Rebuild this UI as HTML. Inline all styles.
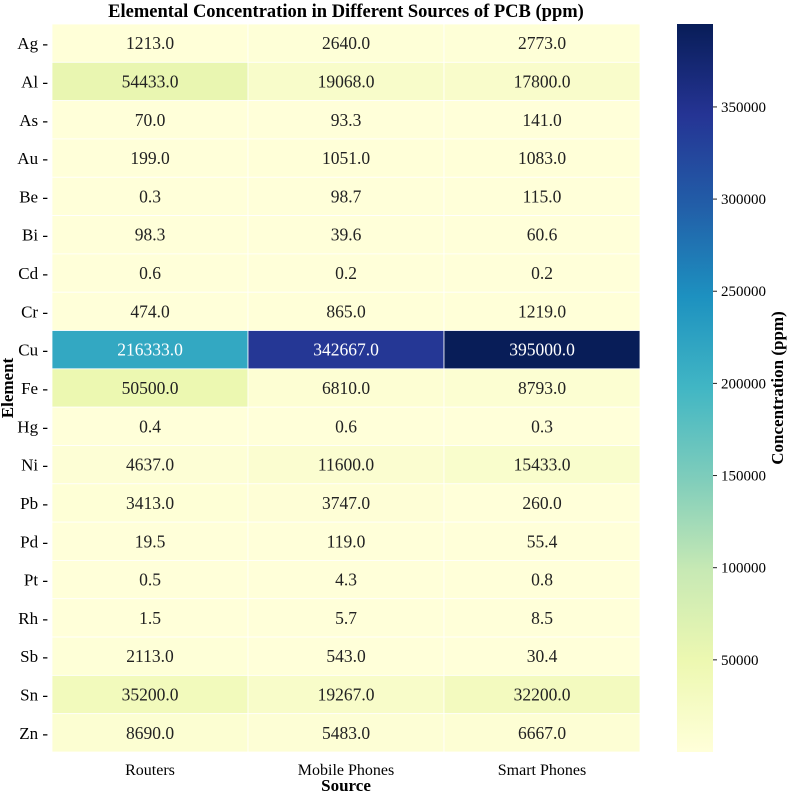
<!DOCTYPE html>
<html><head><meta charset="utf-8">
<style>
body{margin:0;background:#fff;}
svg{display:block;font-family:"Liberation Serif",serif;}
</style></head>
<body>
<svg id="chart" width="790" height="796" xmlns="http://www.w3.org/2000/svg">
<defs>
<linearGradient id="cbgrad" x1="0" y1="1" x2="0" y2="0">
<stop offset="0" stop-color="#ffffd9"/><stop offset="0.125" stop-color="#edf8b1"/><stop offset="0.25" stop-color="#c7e9b4"/><stop offset="0.375" stop-color="#7fcdbb"/><stop offset="0.5" stop-color="#41b6c4"/><stop offset="0.625" stop-color="#1d91c0"/><stop offset="0.75" stop-color="#225ea8"/><stop offset="0.875" stop-color="#253494"/><stop offset="1" stop-color="#081d58"/>
</linearGradient>
</defs>
<text x="346" y="17" text-anchor="middle" font-size="18.5" font-weight="bold">Elemental Concentration in Different Sources of PCB (ppm)</text>
<g id="cells"></g>
<g id="ylabels"></g>
<g id="xlabels"></g>
<text x="346" y="791" text-anchor="middle" font-size="17" font-weight="bold">Source</text>
<text transform="translate(13,388) rotate(-90)" text-anchor="middle" font-size="17" font-weight="bold">Element</text>
<rect x="677" y="24" width="36" height="728" fill="url(#cbgrad)"/>
<g id="cbticks"></g>
<text transform="translate(783,388) rotate(-90)" text-anchor="middle" font-size="17" font-weight="bold">Concentration (ppm)</text>
</svg>
<script>
const elements=["Ag","Al","As","Au","Be","Bi","Cd","Cr","Cu","Fe","Hg","Ni","Pb","Pd","Pt","Rh","Sb","Sn","Zn"];
const sources=["Routers","Mobile Phones","Smart Phones"];
const routers=[1213,54433,70,199,0.3,98.3,0.6,474,216333,50500,0.4,4637,3413,19.5,0.5,1.5,2113,35200,8690];
const mobile=[2640,19068,93.3,1051,98.7,39.6,0.2,865,342667,6810,0.6,11600,3747,119,4.3,5.7,543,19267,5483];
const smart=[2773,17800,141,1083,115,60.6,0.2,1219,395000,8793,0.3,15433,260,55.4,0.8,8.5,30.4,32200,6667];
const cbTicks=[50000,100000,150000,200000,250000,300000,350000];
const vmin=0, vmax=395000;
const NS="http://www.w3.org/2000/svg";
const X0=52,Y0=24,W=588,H=728;
const cw=W/sources.length, rh=H/elements.length;
const stops=["#ffffd9","#edf8b1","#c7e9b4","#7fcdbb","#41b6c4","#1d91c0","#225ea8","#253494","#081d58"].map(h=>[parseInt(h.slice(1,3),16),parseInt(h.slice(3,5),16),parseInt(h.slice(5,7),16)]);
function color(v){let t=(v-vmin)/(vmax-vmin);t=Math.max(0,Math.min(1,t));const p=t*(stops.length-1);const i=Math.min(Math.floor(p),stops.length-2);const f=p-i;const c=stops[i].map((a,k)=>Math.round(a+(stops[i+1][k]-a)*f));return {css:`rgb(${c})`,lum:(0.299*c[0]+0.587*c[1]+0.114*c[2])};}
function xPos(j){return X0+j*cw;}
function yPos(i){return Y0+i*rh;}
function cbY(v){return Y0+H-(v-vmin)/(vmax-vmin)*H;}
const series=[routers,mobile,smart];
const gc=document.getElementById('cells');
series.forEach((s,j)=>{s.forEach((v,i)=>{
  const c=color(v);
  const r=document.createElementNS(NS,'rect');
  r.setAttribute('x',xPos(j));r.setAttribute('y',yPos(i));r.setAttribute('width',cw);r.setAttribute('height',rh);
  r.setAttribute('fill',c.css);r.setAttribute('stroke','#fff');r.setAttribute('stroke-width','0.8');
  
  
  gc.appendChild(r);
  const t=document.createElementNS(NS,'text');
  t.setAttribute('x',xPos(j)+cw/2);t.setAttribute('y',yPos(i)+rh/2+6);t.setAttribute('text-anchor','middle');t.setAttribute('font-size','17.5');
  t.setAttribute('fill',c.lum<140?'#fff':'#222');
  t.textContent=v.toFixed(1);
  
  
  gc.appendChild(t);
});});
const gy=document.getElementById('ylabels');
elements.forEach((e,i)=>{
  const t=document.createElementNS(NS,'text');
  t.setAttribute('x',X0-4);t.setAttribute('y',yPos(i)+rh/2+6);t.setAttribute('text-anchor','end');t.setAttribute('font-size','17');
  t.textContent=e+' -';
  
  
  gy.appendChild(t);
});
const gx=document.getElementById('xlabels');
sources.forEach((s,j)=>{
  const t=document.createElementNS(NS,'text');
  t.setAttribute('x',xPos(j)+cw/2);t.setAttribute('y',Y0+H+23);t.setAttribute('text-anchor','middle');t.setAttribute('font-size','16');
  t.textContent=s;
  
  
  gx.appendChild(t);
});
const gt=document.getElementById('cbticks');
cbTicks.forEach(v=>{
  const y=cbY(v);
  const l=document.createElementNS(NS,'line');
  l.setAttribute('x1',713);l.setAttribute('x2',717);l.setAttribute('y1',y);l.setAttribute('y2',y);l.setAttribute('stroke','#222');
  
  
  gt.appendChild(l);
  const t=document.createElementNS(NS,'text');
  t.setAttribute('x',721);t.setAttribute('y',y+5);t.setAttribute('font-size','15');
  t.textContent=v;
  
  
  gt.appendChild(t);
});
</script>
</body></html>
